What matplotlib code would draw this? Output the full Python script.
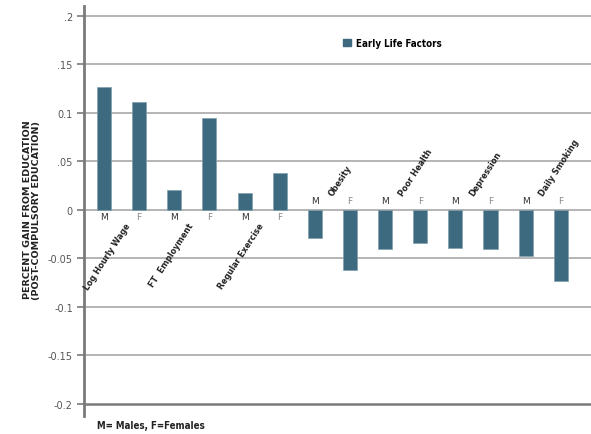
import numpy as np
import matplotlib
matplotlib.use('Agg')
import matplotlib.pyplot as plt
from matplotlib.patches import Patch

# data
groups = ['Log Hourly Wage', 'FT  Employment', 'Regular Exercise',
          'Obesity', 'Poor Health', 'Depression', 'Daily Smoking']
sexes = ['M', 'F']
male_vals = [0.126, 0.020, 0.017, -0.029, -0.041, -0.039, -0.048]
female_vals = [0.111, 0.095, 0.038, -0.062, -0.034, -0.041, -0.074]
yticks = [-0.2, -0.15, -0.1, -0.05, 0, 0.05, 0.1, 0.15, 0.2]
ytick_labels = ['-0.2', '-0.15', '-0.1', '-0.05', '0', '.05', '0.1', '.15', '.2']

bar_col = '#3e6a80'
grid_col = '#b4b4b4'
spine_col = '#7a7a7a'

plt.rcParams['font.family'] = ['DejaVu Sans']

vals = []
labs = []
for m, f in zip(male_vals, female_vals):
    vals += [m, f]
    labs += sexes
x = np.arange(len(vals))

fig = plt.figure(figsize=(5.91, 4.35), dpi=100)
ax = fig.add_axes([0.1421, 0.0414, 0.8579, 0.9425])

for t in yticks:
    ax.axhline(t, color=spine_col if t == -0.2 else grid_col,
               lw=1.8 if t == -0.2 else 1.4, zorder=0)

ax.bar(x, vals, width=0.4, color=bar_col, edgecolor='#7f9fae', linewidth=0.5, zorder=2)

ax.set_xlim(-0.57, 13.86)
ax.set_ylim(-0.2127, 0.21)
ax.set_yticks(yticks)
ax.set_yticklabels(ytick_labels)
ax.set_xticks([])
ax.tick_params(axis='y', length=5, width=1.2, color=spine_col, pad=3,
               labelsize=7, labelcolor='#555555')
for s in ['top', 'right', 'bottom']:
    ax.spines[s].set_visible(False)
ax.spines['left'].set_color(spine_col)
ax.spines['left'].set_linewidth(2)

# M / F under or over the zero line
for xi, v, lab in zip(x, vals, labs):
    yy = -0.0075 if v > 0 else 0.0093
    ax.text(xi, yy, lab, ha='center', va='center', fontsize=6.5,
            color='#333333' if lab == 'M' else '#888888')

# group names
for i, g in enumerate(groups):
    mid = 2 * i + 0.5
    if male_vals[i] > 0:
        shift = 0.3 if i == 0 else 0.1
        ax.text(mid + shift, -0.012, g, rotation=57, ha='right', va='top',
                fontsize=6.5, fontweight='bold',
                fontstretch='condensed', color='#222222')
    else:
        ax.text(mid - 0.15, 0.013, g, rotation=57, ha='left', va='bottom',
                fontsize=6.5, fontweight='bold',
                fontstretch='condensed', color='#222222')

ax.legend(handles=[Patch(color=bar_col, label='Early Life Factors')],
          loc='upper left', bbox_to_anchor=(338 / 591, 1 - 34 / 435),
          bbox_transform=fig.transFigure, frameon=False, borderpad=0,
          handlelength=0.8, handleheight=0.8, handletextpad=0.5,
          prop={'size': 7, 'weight': 'bold', 'stretch': 'condensed'})

fig.text(32 / 591, 1 - 210 / 435,
         'PERCENT GAIN FROM EDUCATION\n(POST-COMPULSORY EDUCATION)',
         rotation=90, ha='center', va='center', multialignment='center',
         fontsize=6.8, fontweight='bold', color='#222222', linespacing=1.1)

fig.text(97 / 591, 1 - 426 / 435, 'M= Males, F=Females', ha='left', va='center',
         fontsize=7, fontweight='bold', fontstretch='condensed', color='#222222')

fig.savefig('out.png', dpi=100)
